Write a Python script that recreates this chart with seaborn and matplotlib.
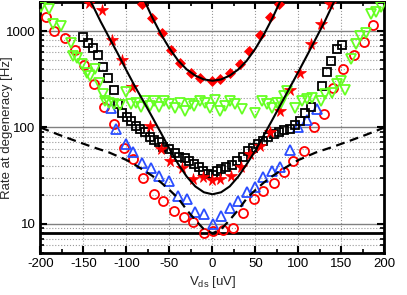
import numpy as np
import matplotlib
matplotlib.use('Agg')
import matplotlib.pyplot as plt
from matplotlib.ticker import MultipleLocator, FixedLocator, LogLocator, NullFormatter, FuncFormatter
import seaborn as sns

sns.set_style('ticks')
plt.rcParams['font.family'] = ['Liberation Sans', 'DejaVu Sans']
plt.rcParams['font.size'] = 9.5
plt.rcParams['axes.unicode_minus'] = False
plt.rcParams['mathtext.fontset'] = 'custom'
plt.rcParams['mathtext.rm'] = 'Liberation Sans'

# ---- data ----
dia_x = [-82, -70, -59, -48, -38, -25, -14, -1, 9, 20, 32, 43, 55, 67, 77]
dia_y = [1920, 1350, 950, 630, 465, 370, 325, 305, 320, 370, 450, 620, 920, 1400, 1920]

star_x = [-144, -129, -117, -105, -94, -73, -60, -49, -36, -23, -11, -1, 9, 21, 33, 44,
          55, 67, 79, 90, 102, 114, 126, 137]
star_y = [1950, 1670, 800, 500, 260, 104, 60, 45, 38, 29.5, 31, 28.5, 29, 31.5, 39, 53,
          65, 89, 147, 247, 370, 730, 1190, 1890]

sq_x = [-151, -145, -139, -133, -127, -121, -115, -110, -105, -99, -95, -89, -84, -79,
        -73, -68, -62, -57, -50, -44, -39, -32, -27, -21, -16, -11, -5, 1, 5, 10, 16, 23,
        29, 35, 41, 47, 53, 59, 65, 71, 77, 83, 90, 96, 102, 108, 114, 127, 133, 138, 145, 151]
sq_y = [867, 757, 672, 565, 424, 329, 243, 175, 143, 129, 117, 104, 96, 89,
        80, 74, 70, 63, 60, 54, 50, 48, 45, 42, 38.6, 35.6, 33, 32, 35.6, 37, 38.6, 40.8,
        45, 50, 57.4, 61, 67, 73, 80, 85.5, 90, 94.7, 97, 107, 117, 142, 162, 270, 377, 490, 647, 711]

circ_x = [-194, -184, -172, -160, -149, -138, -126, -114, -103, -92, -81, -68, -57, -45,
          -33, -23, -10, 1, 12, 24, 36, 48, 59, 71, 83, 94, 106, 118, 130, 140, 152, 164, 176, 187]
circ_y = [1400, 1000, 840, 630, 440, 285, 163, 110, 62, 47, 30, 20.5, 17.2, 13.5,
          11.9, 10.6, 8.1, 8.5, 8.6, 9.0, 12.9, 18.2, 22.1, 26.8, 34.3, 44.5, 57.4, 101, 138,
          259, 402, 565, 770, 1150]

tri_x = [-118, -112, -101, -92, -82, -71, -62, -51, -40, -30, -20, -10, 1, 10, 20, 30,
         40, 50, 59, 69, 79, 90, 100, 110, 121]
tri_y = [161, 96, 67, 56, 43, 38, 31.6, 27.7, 19.7, 18.2, 13.2, 12.7, 10, 12.2, 14.7, 17.5,
         21.6, 24.4, 30.4, 35.6, 39.3, 59, 102, 120, 155]

grn_x = [-199, -190, -186, -176, -165, -162, -157, -152, -146, -142, -137, -132, -127,
         -125, -120, -114, -108, -101, -95, -89, -83, -79, -73, -68, -62, -56, -51, -44,
         -38, -32, -26, -21, -15, -9, -3, 3, 9, 14, 20, 26, 34, 50, 57, 63, 69, 75, 80, 83,
         87, 96, 104, 110, 116, 126, 131, 139, 145, 149, 154, 161, 167, 172, 178, 184, 190, 196]
grn_y = [1770, 1710, 1195, 1140, 750, 550, 530, 455, 370, 345, 400, 290, 225,
         190, 181, 176, 172, 235, 175, 181, 164, 189, 168, 189, 164, 189, 175, 161,
         181, 149, 175, 168, 189, 181, 161, 192, 149, 168, 189, 175, 155, 143, 189, 175, 161, 181, 178, 213,
         240, 161, 189, 197, 204, 189, 222, 230, 285, 304, 243, 510, 728, 887, 946, 1515, 1575, 1770]

# curves
top_x = [-88, -80, -70, -60, -50, -40, -30, -20, -10, 0, 10, 20, 30, 40, 50, 60, 70, 80, 88]
top_y = [2900, 2150, 1380, 930, 660, 495, 400, 345, 315, 305, 315, 345, 400, 495, 660, 930, 1380, 2150, 2900]

mid_x = [-150, -140, -130, -120, -110, -100, -90, -80, -70, -60, -50, -40, -30, -20, -10, 0,
         10, 20, 30, 40, 50, 60, 70, 80, 90, 100, 110, 120, 130, 140, 148]
mid_y = [2900, 1900, 1250, 850, 580, 390, 265, 185, 128, 88, 60, 42, 31, 24.5, 21.3, 20.3,
         21.3, 24.5, 31, 42, 58, 84, 122, 178, 260, 380, 560, 830, 1230, 1900, 2700]

dash_x = [-200, -180, -160, -140, -120, -100, -90, -80, -70, -60, -50, -40, -30, -20, -10, 0,
          10, 20, 30, 40, 50, 60, 70, 80, 90, 100, 120, 140, 160, 180, 200]
dash_y = [100, 85, 73, 63, 55, 46, 41, 36, 31.5, 27, 22.5, 18.5, 14, 11, 8.8, 8,
          8.8, 11, 14, 18.5, 22.5, 27, 31.5, 36, 41, 46, 55, 63, 73, 85, 100]

RED = '#ff0000'
BLUE = '#2a4dff'
GREEN = '#66ff22'

fig = plt.figure(figsize=(4.07, 2.95), dpi=100)
ax = fig.add_axes([0.0995, 0.1424, 0.8452, 0.8508])
ax.set_yscale('log')


def marks(x, y, **kw):
    sns.lineplot(x=x, y=y, estimator=None, sort=False, legend=False, ax=ax,
                 linestyle='', **kw)


marks(circ_x, circ_y, marker='o', color=RED, ms=6.5, mfc='none', mec=RED, mew=1.3, zorder=3)
marks(tri_x, tri_y, marker='^', color=BLUE, ms=6.5, mfc='none', mec=BLUE, mew=1.3, zorder=3)
marks(sq_x, sq_y, marker='s', color='black', ms=5.2, mfc='none', mec='black', mew=1.3, zorder=3)
marks(star_x, star_y, marker='*', color=RED, ms=8.5, mfc=RED, mec=RED, mew=0.5, zorder=4)
marks(grn_x, grn_y, marker='v', color=GREEN, ms=6.5, mfc='none', mec=GREEN, mew=1.3, zorder=4)
marks(dia_x, dia_y, marker='D', color=RED, ms=5.5, mfc=RED, mec=RED, mew=0.5, zorder=4)

sns.lineplot(x=top_x, y=top_y, estimator=None, sort=False, legend=False, ax=ax,
             color='black', lw=1.5, zorder=5)
sns.lineplot(x=mid_x, y=mid_y, estimator=None, sort=False, legend=False, ax=ax,
             color='black', lw=1.5, zorder=5)
sns.lineplot(x=dash_x, y=dash_y, estimator=None, sort=False, legend=False, ax=ax,
             color='black', lw=1.6, linestyle=(0, (4, 2.5)), zorder=5)

ax.axhline(8, color='black', lw=2, zorder=2)

ax.set_xlim(-200, 200)
ax.set_ylim(5, 2000)
ax.xaxis.set_major_locator(MultipleLocator(50))
ax.xaxis.set_minor_locator(MultipleLocator(25))
ax.yaxis.set_major_locator(FixedLocator([10, 100, 1000]))
ax.yaxis.set_major_formatter(FuncFormatter(lambda v, p: f'{v:g}'))
ax.yaxis.set_minor_locator(LogLocator(base=10, subs=np.arange(2, 10)))
ax.yaxis.set_minor_formatter(NullFormatter())

ax.grid(which='major', axis='y', color='#808080', ls='-', lw=1.0, zorder=1)
ax.grid(which='minor', axis='y', color='#999999', ls=':', lw=0.8, zorder=1)
ax.grid(which='major', axis='x', color='#999999', ls=':', lw=0.8, zorder=1)
ax.set_axisbelow(True)

ax.tick_params(which='both', direction='in', top=True, right=True, colors='black')
ax.tick_params(which='major', length=5, width=1.5, labelsize=9.5, pad=3.5)
ax.tick_params(which='minor', length=3, width=1.2)
for s in ax.spines.values():
    s.set_linewidth(2)
    s.set_color('black')

ax.set_xlabel(r'V$_{\mathrm{ds}}$ [uV]', fontsize=9.5, labelpad=3)
ax.set_ylabel('Rate at degeneracy [Hz]', fontsize=9.5)
ax.yaxis.set_label_coords(-0.079, 0.5)

fig.savefig('out.png', dpi=100)
plt.close(fig)
